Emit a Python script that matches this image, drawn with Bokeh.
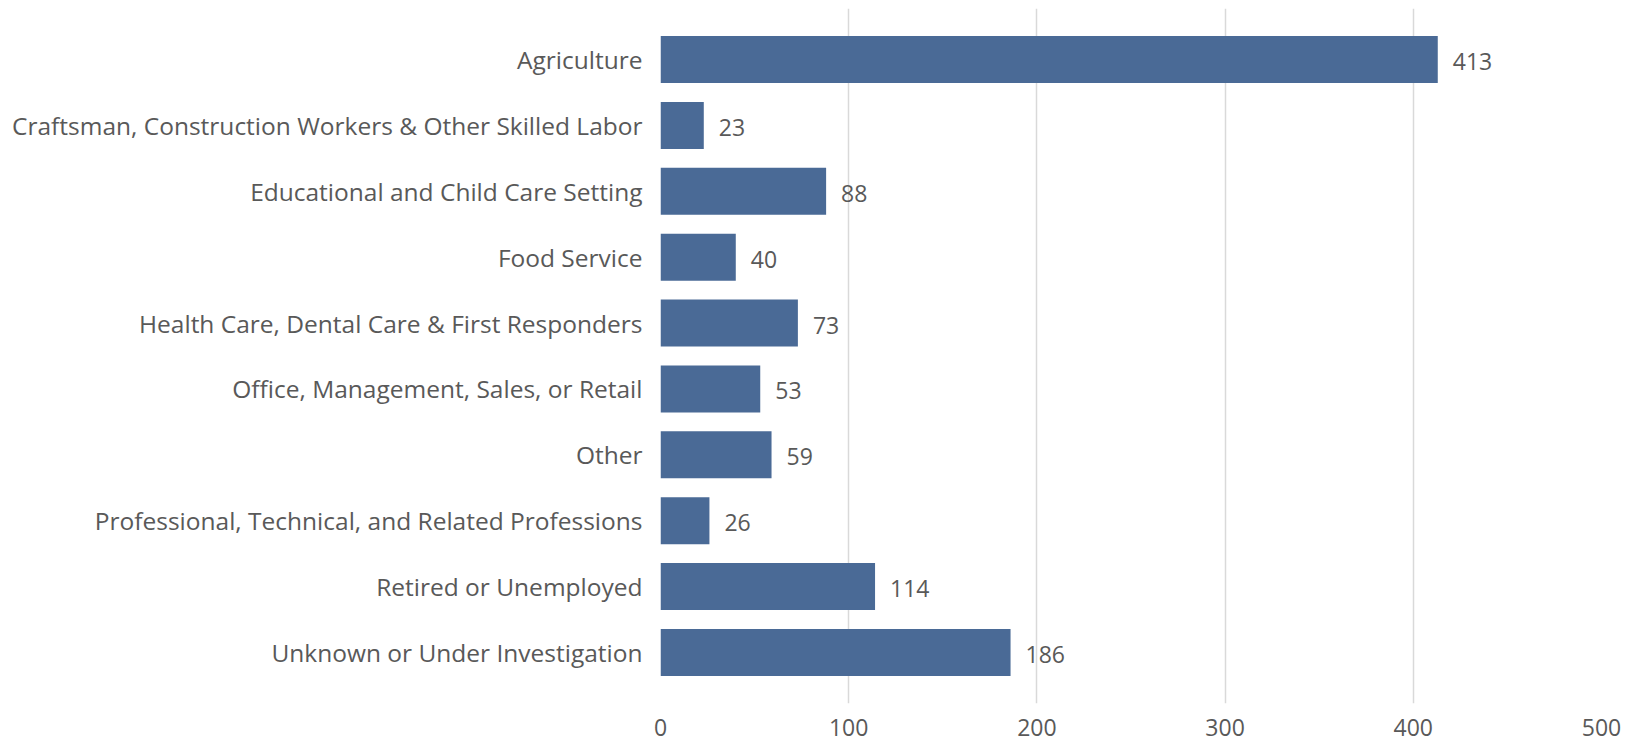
from bokeh.plotting import figure
from bokeh.models import Range1d, FixedTicker, ColumnDataSource, LabelSet
from bokeh.core.properties import value
from bokeh.embed import file_html
from bokeh.resources import INLINE

categories = [
    "Agriculture",
    "Craftsman, Construction Workers & Other Skilled Labor",
    "Educational and Child Care Setting",
    "Food Service",
    "Health Care, Dental Care & First Responders",
    "Office, Management, Sales, or Retail",
    "Other",
    "Professional, Technical, and Related Professions",
    "Retired or Unemployed",
    "Unknown or Under Investigation",
]
counts = [413, 23, 88, 40, 73, 53, 59, 26, 114, 186]
x_ticks = [0, 100, 200, 300, 400, 500]

FONT = "Open Sans"
GREY = "#595959"
FS = "23px"

pos = list(range(len(categories)))
src = ColumnDataSource(dict(y=pos, v=counts, lab=[str(c) for c in counts]))

p = figure(width=1631, height=741, output_backend="svg", toolbar_location=None,
           x_range=Range1d(0, 500), y_range=Range1d(9.774, -0.774),
           min_border_left=660, min_border_right=30, min_border_top=8, min_border_bottom=38)
p.outline_line_color = None
p.hbar(y="y", right="v", left=0, height=0.713, source=src, color="#4A6A96", line_color=None)

labels = LabelSet(x="v", y="y", text="lab", source=src, x_offset=15, y_offset=-2,
                  text_baseline="middle", text_align="left", text_color=GREY,
                  text_font=value(FONT), text_font_size=FS)
p.add_layout(labels)

p.xaxis.ticker = FixedTicker(ticks=x_ticks)
p.xaxis.axis_line_color = None
p.xaxis.major_tick_line_color = None
p.xaxis.minor_tick_line_color = None
p.xaxis.major_label_text_font = FONT
p.xaxis.major_label_text_font_size = FS
p.xaxis.major_label_text_color = GREY
p.xaxis.major_label_standoff = 9

p.yaxis.ticker = FixedTicker(ticks=pos)
p.yaxis.major_label_overrides = {i: c for i, c in enumerate(categories)}
p.yaxis.axis_line_color = None
p.yaxis.major_tick_line_color = None
p.yaxis.minor_tick_line_color = None
p.yaxis.major_label_text_font = FONT
p.yaxis.major_label_text_font_size = "24.5px"
p.yaxis.major_label_text_color = GREY
p.yaxis.major_label_standoff = 12

p.xgrid.grid_line_color = "#D9D9D9"
p.xgrid.grid_line_width = 1.5
p.ygrid.grid_line_color = None

open("out.html", "w").write(file_html(p, INLINE))
